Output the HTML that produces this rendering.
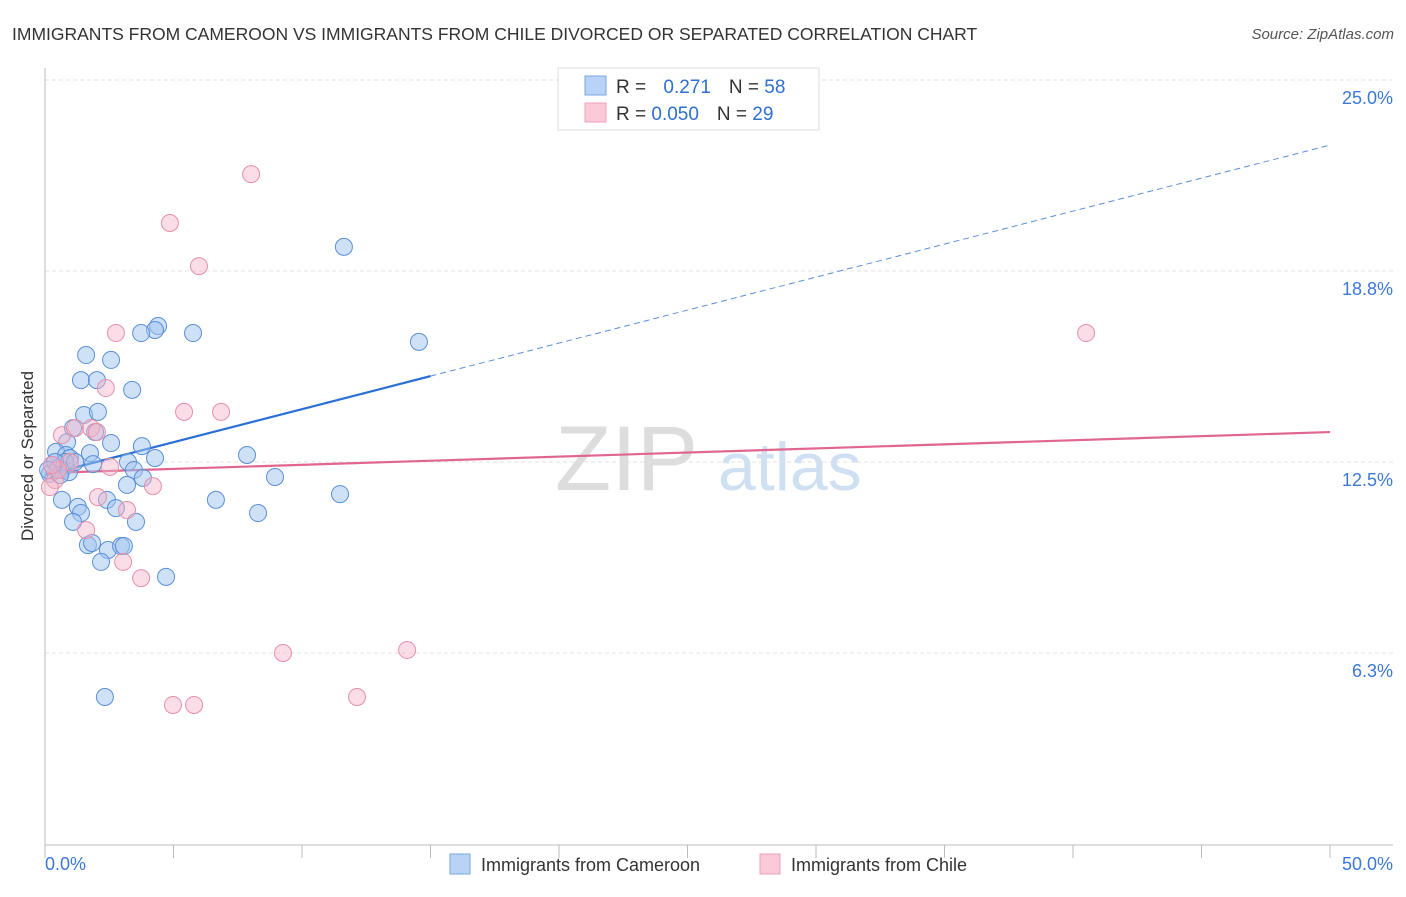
<!DOCTYPE html>
<html><head><meta charset="utf-8"><style>
body{margin:0;background:#fff;font-family:"Liberation Sans",sans-serif}
svg text{font-family:"Liberation Sans",sans-serif}
</style></head><body>
<svg width="1406" height="892" viewBox="0 0 1406 892">
<text x="12" y="40" font-size="17.5" fill="#333">IMMIGRANTS FROM CAMEROON VS IMMIGRANTS FROM CHILE DIVORCED OR SEPARATED CORRELATION CHART</text>
<text x="1394" y="39" font-size="15" fill="#555" font-style="italic" text-anchor="end">Source: ZipAtlas.com</text>
<text x="0" y="0" font-size="17" fill="#333" text-anchor="middle" transform="translate(33,456) rotate(-90)">Divorced or Separated</text>
<g><text x="555" y="490" font-size="92" fill="#ddd" font-family="Liberation Serif">ZIP</text><text x="718" y="490" font-size="68" fill="#cfe0f3">atlas</text></g>
<g id="grid"></g><g id="axes"></g><g id="lines"></g><g id="pts"></g>
<g>
<rect x="558" y="68" width="261" height="62" fill="#fff" stroke="#ddd"/>
<rect x="585" y="76" width="21" height="19" fill="#b8d3f5" stroke="#7aa7e0"/>
<rect x="585" y="103" width="21" height="19" fill="#fbcad8" stroke="#eda0b8"/>
<text x="616" y="93" font-size="19" fill="#333">R = <tspan fill="#2e6fd0" dx="12">0.271</tspan><tspan dx="18" fill="#333">N = </tspan><tspan fill="#2e6fd0">58</tspan></text>
<text x="616" y="120" font-size="19" fill="#333">R = <tspan fill="#2e6fd0">0.050</tspan><tspan dx="18" fill="#333">N = </tspan><tspan fill="#2e6fd0">29</tspan></text>
</g>
<g>
<rect x="450" y="854" width="20" height="20" fill="#b8d3f5" stroke="#7aa7e0"/>
<text x="481" y="871" font-size="18" fill="#333">Immigrants from Cameroon</text>
<rect x="760" y="854" width="20" height="20" fill="#fbcad8" stroke="#eda0b8"/>
<text x="791" y="871" font-size="18" fill="#333">Immigrants from Chile</text>
</g>
</svg>
<script>
const yTicks=[25.0,18.8,12.5,6.3];
const yTickVals=[25,18.75,12.5,6.25];
const xTickLabels=["0.0%","50.0%"];
const camX=[11.63,14.55,4.40,4.28,3.74,5.76,1.60,2.57,1.40,2.02,3.39,1.52,2.06,1.09,1.95,2.57,0.86,3.77,0.43,0.82,1.75,0.97,4.28,3.23,7.86,1.87,3.46,0.27,0.51,0.66,0.19,0.93,3.81,3.19,8.95,11.48,0.66,2.41,6.65,1.28,1.40,2.76,1.09,3.54,8.29,1.67,1.83,2.45,2.96,3.07,2.18,4.71,2.33,0.78,0.39,0.12,0.58,1.17];
const camY=[19.54,16.43,16.95,16.82,16.72,16.72,16.00,15.84,15.18,15.18,14.86,14.04,14.14,13.61,13.48,13.12,13.15,13.02,12.83,12.73,12.79,12.63,12.63,12.50,12.73,12.43,12.24,12.40,12.30,12.24,12.11,12.17,11.98,11.75,12.01,11.45,11.26,11.26,11.26,11.03,10.83,10.99,10.54,10.54,10.83,9.78,9.85,9.62,9.75,9.75,9.23,8.74,4.81,12.50,12.50,12.24,12.07,12.50];
const chiX=[8.02,4.86,5.99,2.76,40.51,2.37,5.41,6.85,0.66,1.17,1.79,2.02,0.97,2.53,4.20,0.39,0.19,2.06,3.19,1.60,3.04,3.74,9.26,14.09,12.14,4.98,5.80,0.51,0.27];
const chiY=[21.92,20.32,18.91,16.72,16.72,14.92,14.14,14.14,13.38,13.61,13.61,13.48,12.50,12.34,11.71,11.91,11.68,11.35,10.93,10.27,9.23,8.70,6.25,6.35,4.81,4.55,4.55,12.24,12.40];
const camTrend=[12.07,22.87]; const camSolidEnd=15;
const chiTrend=[12.14,13.48];
const NS="http://www.w3.org/2000/svg";
const X=v=>45+v*25.7, Y=v=>844-v*30.56;
function mk(t,a,p){const e=document.createElementNS(NS,t);for(const k in a)e.setAttribute(k,a[k]);document.getElementById(p).appendChild(e);return e;}
yTickVals.forEach((v,i)=>{
 const g=mk('line',{x1:45,x2:1393,y1:Y(v),y2:Y(v),stroke:'#e2e2e2','stroke-dasharray':'4,3'},'grid');
 
 
 const t=mk('text',{x:1393,y:Y(v)+24,'font-size':18,fill:'#3b78d8','text-anchor':'end'},'grid');
 t.textContent=yTicks[i].toFixed(1)+'%';
 
 
});
let a=mk('line',{x1:45,x2:45,y1:68,y2:845,stroke:'#bbb'},'axes');


a=mk('line',{x1:45,x2:1393,y1:845,y2:845,stroke:'#bbb'},'axes');


for(let i=0;i<=10;i++){const tk=mk('line',{x1:X(i*5),x2:X(i*5),y1:845,y2:858,stroke:'#bbb'},'axes');
 
 }
let t=mk('text',{x:45,y:870,'font-size':18,fill:'#3b78d8'},'axes');t.textContent=xTickLabels[0];


t=mk('text',{x:1393,y:870,'font-size':18,fill:'#3b78d8','text-anchor':'end'},'axes');t.textContent=xTickLabels[1];


const cy=x=>camTrend[0]+(camTrend[1]-camTrend[0])*x/50;
let l=mk('line',{x1:X(0),y1:Y(cy(0)),x2:X(camSolidEnd),y2:Y(cy(camSolidEnd)),stroke:'#2a6fd6','stroke-width':2.2},'lines');


l=mk('line',{x1:X(camSolidEnd),y1:Y(cy(camSolidEnd)),x2:X(50),y2:Y(cy(50)),stroke:'#5b8fdc','stroke-width':1,'stroke-dasharray':'6,4'},'lines');


l=mk('line',{x1:X(0),y1:Y(chiTrend[0]),x2:X(50),y2:Y(chiTrend[1]),stroke:'#e0668e','stroke-width':2.2},'lines');


camX.forEach((x,i)=>{const c=mk('circle',{cx:X(x),cy:Y(camY[i]),r:8.5,fill:'rgba(160,196,240,0.5)',stroke:'#5a8fd8','stroke-width':1},'pts');
 
 });
chiX.forEach((x,i)=>{const c=mk('circle',{cx:X(x),cy:Y(chiY[i]),r:8.5,fill:'rgba(245,180,200,0.45)',stroke:'#e890a8','stroke-width':1},'pts');
 
 });
</script>
</body></html>
